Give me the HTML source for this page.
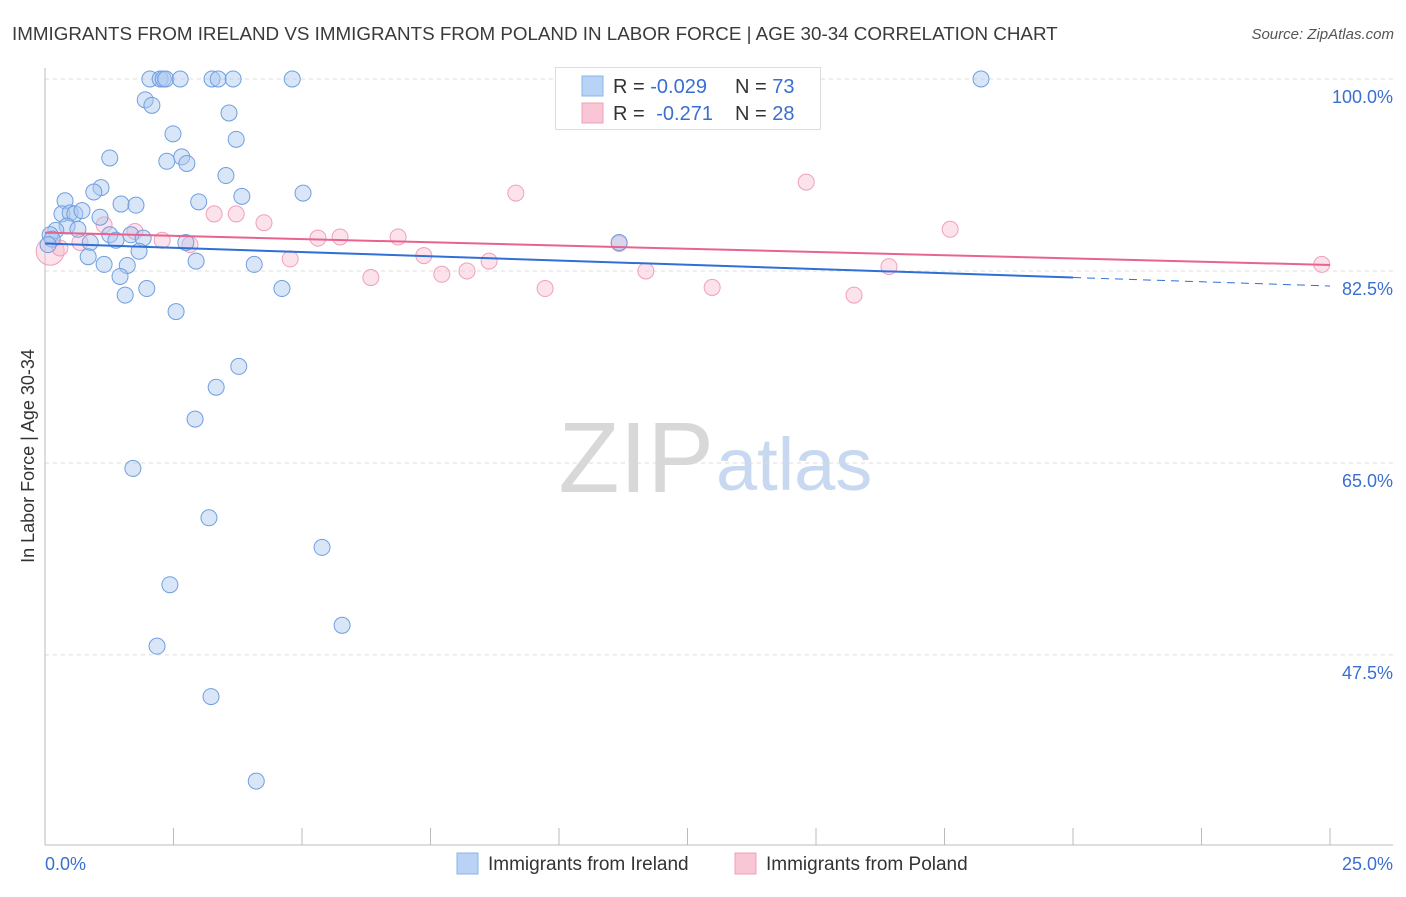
<!DOCTYPE html>
<html><head><meta charset="utf-8"><style>
body{margin:0;background:#fff;font-family:"Liberation Sans",sans-serif;}
svg text{font-family:"Liberation Sans",sans-serif;}
</style></head><body>
<svg id="chart" width="1406" height="892" viewBox="0 0 1406 892">
<text x="12" y="40" font-size="18.8" fill="#3a3a3a">IMMIGRANTS FROM IRELAND VS IMMIGRANTS FROM POLAND IN LABOR FORCE | AGE 30-34 CORRELATION CHART</text>
<text x="1394" y="39" font-size="15" fill="#555" font-style="italic" text-anchor="end">Source: ZipAtlas.com</text>
<text x="714" y="492" font-size="100" fill="#d8d8d8" text-anchor="end" font-family="Liberation Serif">ZIP</text>
<text x="716" y="490" font-size="74" fill="#c8d8f0">atlas</text>
<text transform="translate(34,456) rotate(-90)" font-size="18" fill="#333" text-anchor="middle">In Labor Force | Age 30-34</text>
<g id="grid"></g><g id="marks"></g>
<g>
<rect x="555.5" y="67.5" width="265" height="62" fill="#fff" stroke="#ddd"/>
<rect x="582" y="76" width="21" height="20" fill="#b8d3f5" stroke="#8ab4e8"/>
<rect x="582" y="103" width="21" height="20" fill="#f9c6d5" stroke="#f0a0bb"/>
<text x="613" y="93" font-size="20" fill="#333">R = <tspan fill="#3a6fd0">-0.029</tspan><tspan x="735">N = </tspan><tspan fill="#3a6fd0">73</tspan></text>
<text x="613" y="120" font-size="20" fill="#333">R = <tspan fill="#3a6fd0" dx="6">-0.271</tspan><tspan x="735">N = </tspan><tspan fill="#3a6fd0">28</tspan></text>
</g>
<text x="45" y="870" font-size="18" fill="#3a6fd0">0.0%</text>
<text x="1393" y="870" font-size="18" fill="#3a6fd0" text-anchor="end">25.0%</text>
<rect x="457" y="853" width="21" height="21" fill="#b8d3f5" stroke="#8ab4e8"/>
<text x="488" y="870" font-size="19" fill="#333">Immigrants from Ireland</text>
<rect x="735" y="853" width="21" height="21" fill="#f9c6d5" stroke="#f0a0bb"/>
<text x="766" y="870" font-size="19" fill="#333">Immigrants from Poland</text>
</svg>
<script>
const yTicks=[100,82.5,65,47.5];
const yTickLabels=["100.0%","82.5%","65.0%","47.5%"];
const irelandX=[2.04,2.24,2.30,2.35,2.63,3.25,3.37,3.66,4.81,18.21,1.95,2.08,3.58,2.49,3.72,1.26,2.37,2.66,2.76,3.52,0.39,1.09,0.95,1.48,1.77,2.99,3.83,5.02,0.33,0.49,0.58,0.72,1.07,0.43,0.64,0.21,0.10,0.14,0.06,0.88,1.26,1.38,1.67,1.91,2.74,1.83,0.84,1.15,1.60,2.94,4.07,1.46,1.98,1.56,4.61,2.55,11.17,3.77,3.33,2.92,1.71,3.19,5.39,2.43,5.78,2.18,3.23,4.11];
const irelandY=[100,100,100,100,100,100,100,100,100,100,98.1,97.6,96.9,95.0,94.5,92.8,92.5,92.9,92.3,91.2,88.9,90.1,89.7,88.6,88.5,88.8,89.3,89.6,87.7,87.8,87.7,88.0,87.4,86.6,86.3,86.2,85.8,85.4,84.9,85.1,85.8,85.3,85.8,85.5,85.1,84.3,83.8,83.1,83.0,83.4,83.1,82.0,80.9,80.3,80.9,78.8,85.1,73.8,71.9,69.0,64.5,60.0,57.3,53.9,50.2,48.3,43.7,36.0];
const polandX=[0.10,1.15,1.75,2.28,2.82,3.29,3.72,4.26,4.77,5.31,5.74,6.87,6.34,7.37,7.72,8.21,8.64,9.16,9.73,11.17,11.69,12.98,14.81,15.74,16.42,17.61,24.84,0.68,0.29];
const polandY=[84.3,86.7,86.1,85.3,84.9,87.7,87.7,86.9,83.6,85.5,85.6,85.6,81.9,83.9,82.2,82.5,83.4,89.6,80.9,85.0,82.5,81.0,90.6,80.3,82.9,86.3,83.1,85.1,84.6];
const irelandTrend=[85.0,81.13];const irelandTrendEnd=20;
const polandTrend=[86.0,83.05];
const X0=45,X1=1330,Y0=79,PPU=10.97;
function xs(v){return X0+(X1-X0)*v/25;}
function ys(v){return Y0+(100-v)*PPU;}
const NS="http://www.w3.org/2000/svg";
function mk(t,a,p){const e=document.createElementNS(NS,t);for(const k in a)e.setAttribute(k,a[k]);p.appendChild(e);return e;}
const grid=document.getElementById('grid'),marks=document.getElementById('marks');
yTicks.forEach((t,i)=>{
 const l=mk('line',{x1:45,x2:1393,y1:ys(t),y2:ys(t),stroke:'#ddd','stroke-dasharray':'4,4'},grid);
 
 
 const tx=mk('text',{x:1393,y:ys(t)+24,'font-size':18,fill:'#3a6fd0','text-anchor':'end'},grid);
 tx.textContent=yTickLabels[i];
 
 
});
const ax=mk('line',{x1:45,x2:45,y1:68,y2:845,stroke:'#bbb'},grid);


const bx=mk('line',{x1:45,x2:1393,y1:845,y2:845,stroke:'#bbb'},grid);


for(let i=1;i<=10;i++){const t=mk('line',{x1:xs(i*2.5),x2:xs(i*2.5),y1:828,y2:845,stroke:'#bbb'},grid);
 
 }
polandX.forEach((x,i)=>{const c=mk('circle',{cx:xs(x),cy:ys(polandY[i]),r:i==0?14:8,fill:'rgba(249,190,208,0.45)',stroke:'#f0a0bb','stroke-width':1},marks);
 
 });
irelandX.forEach((x,i)=>{const c=mk('circle',{cx:xs(x),cy:ys(irelandY[i]),r:8,fill:'rgba(170,200,240,0.45)',stroke:'#6f9fe0','stroke-width':1},marks);
 
 });
const yb=x=>irelandTrend[0]+(irelandTrend[1]-irelandTrend[0])*x/25;
const l1=mk('line',{x1:xs(0),y1:ys(yb(0)),x2:xs(irelandTrendEnd),y2:ys(yb(irelandTrendEnd)),stroke:'#2f6fd6','stroke-width':2},marks);


const l2=mk('line',{x1:xs(irelandTrendEnd),y1:ys(yb(irelandTrendEnd)),x2:xs(25),y2:ys(yb(25)),stroke:'#2f6fd6','stroke-width':1,'stroke-dasharray':'8,6'},marks);


const l3=mk('line',{x1:xs(0),y1:ys(polandTrend[0]),x2:xs(25),y2:ys(polandTrend[1]),stroke:'#e8648e','stroke-width':2},marks);


</script>
</body></html>
